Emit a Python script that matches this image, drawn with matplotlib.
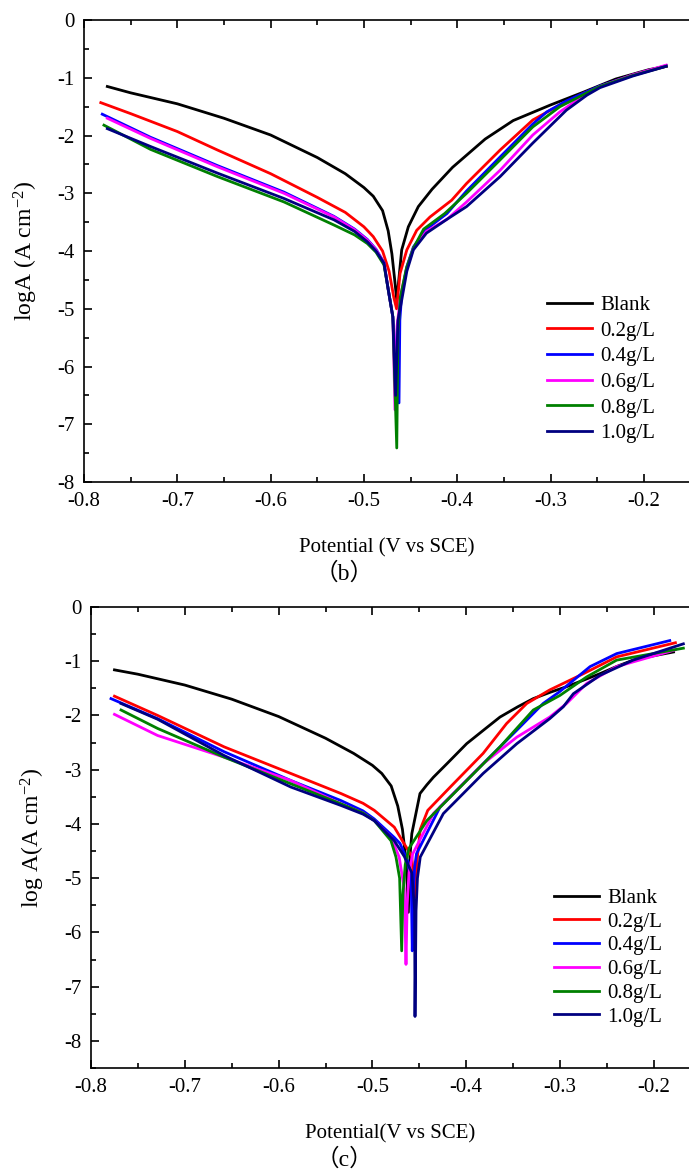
import matplotlib
matplotlib.use("Agg")
import matplotlib.pyplot as plt
from matplotlib.ticker import MultipleLocator

plt.rcParams['font.family'] = ['Liberation Serif', 'Noto Sans CJK SC']
plt.rcParams['mathtext.fontset'] = 'custom'
plt.rcParams['mathtext.rm'] = 'Liberation Serif'
plt.rcParams['mathtext.it'] = 'Liberation Serif:italic'
plt.rcParams['axes.unicode_minus'] = False

labels = ['Blank', '0.2g/L', '0.4g/L', '0.6g/L', '0.8g/L', '1.0g/L']
colors = ['black', '#ff0000', '#0000ff', '#ff00ff', '#008000', '#000080']

# ---- (b) ----
b_blank_E = [-0.775, -0.75, -0.70, -0.65, -0.60, -0.55, -0.52, -0.50, -0.49, -0.48, -0.474, -0.470, -0.467, -0.4648,
             -0.463, -0.4595, -0.4524, -0.4417, -0.427, -0.405, -0.37, -0.34, -0.30, -0.265, -0.23, -0.195, -0.176]
b_blank_I = [-1.15, -1.26, -1.45, -1.70, -1.99, -2.38, -2.66, -2.90, -3.05, -3.30, -3.65, -4.05, -4.50, -4.85,
             -4.56, -3.98, -3.58, -3.23, -2.93, -2.55, -2.06, -1.74, -1.47, -1.25, -1.02, -0.86, -0.80]

b_02_E = [-0.782, -0.75, -0.70, -0.657, -0.60, -0.55, -0.52, -0.50, -0.49, -0.48, -0.473, -0.468, -0.465,
          -0.4613, -0.454, -0.4434, -0.4292, -0.406, -0.390, -0.354, -0.319, -0.300, -0.265, -0.247, -0.212, -0.176]
b_02_I = [-1.43, -1.62, -1.93, -2.25, -2.66, -3.07, -3.33, -3.58, -3.75, -4.00, -4.35, -4.80, -5.00,
          -4.39, -3.98, -3.64, -3.41, -3.12, -2.83, -2.25, -1.73, -1.56, -1.27, -1.15, -0.95, -0.80]

b_04_E = [-0.7804, -0.7286, -0.657, -0.5856, -0.532, -0.51, -0.4963, -0.487, -0.4785, -0.4738, -0.469, -0.4624,
          -0.4615, -0.4595, -0.454, -0.447, -0.433, -0.411, -0.390, -0.354, -0.319, -0.304, -0.283, -0.261, -0.247, -0.212, -0.176]
b_04_I = [-1.63, -2.03, -2.52, -2.98, -3.40, -3.62, -3.80, -3.97, -4.20, -4.68, -5.14, -6.63,
          -5.20, -4.75, -4.27, -3.93, -3.62, -3.35, -2.96, -2.37, -1.80, -1.59, -1.40, -1.24, -1.14, -0.95, -0.79]

b_06_E = [-0.775, -0.7286, -0.657, -0.5856, -0.532, -0.51, -0.4963, -0.487, -0.4785, -0.4738, -0.469, -0.4667,
          -0.4645, -0.4605, -0.454, -0.447, -0.433, -0.411, -0.390, -0.354, -0.319, -0.290, -0.261, -0.247, -0.212, -0.176]
b_06_I = [-1.70, -2.05, -2.54, -3.00, -3.41, -3.63, -3.81, -3.98, -4.21, -4.68, -5.14, -6.75,
          -5.30, -4.75, -4.30, -3.95, -3.66, -3.45, -3.15, -2.60, -1.99, -1.59, -1.27, -1.15, -0.95, -0.78]

b_08_E = [-0.7786, -0.7286, -0.657, -0.5856, -0.532, -0.51, -0.4963, -0.487, -0.4785, -0.4738, -0.469, -0.4648,
          -0.4635, -0.461, -0.4545, -0.447, -0.436, -0.4134, -0.390, -0.354, -0.319, -0.290, -0.261, -0.247, -0.212, -0.176]
b_08_I = [-1.82, -2.24, -2.71, -3.15, -3.55, -3.72, -3.87, -4.02, -4.24, -4.68, -5.14, -7.41,
          -5.40, -4.80, -4.30, -3.95, -3.62, -3.35, -3.00, -2.42, -1.85, -1.50, -1.26, -1.15, -0.96, -0.80]

b_10_E = [-0.775, -0.7286, -0.657, -0.5856, -0.532, -0.51, -0.4963, -0.487, -0.4785, -0.4738, -0.469, -0.466,
          -0.4635, -0.4595, -0.454, -0.447, -0.433, -0.411, -0.390, -0.354, -0.319, -0.283, -0.261, -0.247, -0.212, -0.176]
b_10_I = [-1.88, -2.19, -2.65, -3.09, -3.46, -3.66, -3.84, -4.00, -4.21, -4.68, -5.14, -6.50,
          -5.20, -4.85, -4.35, -3.98, -3.69, -3.45, -3.23, -2.71, -2.13, -1.56, -1.30, -1.17, -0.97, -0.80]

# ---- (c) ----
c_blank_E = [-0.775, -0.75, -0.70, -0.65, -0.60, -0.55, -0.52, -0.50, -0.49, -0.48, -0.473, -0.468, -0.464, -0.4617,
             -0.460, -0.458, -0.4493, -0.442, -0.435, -0.42, -0.3995, -0.38, -0.364, -0.345, -0.3285, -0.31,
             -0.293, -0.275, -0.2574, -0.24, -0.222, -0.20, -0.179]
c_blank_I = [-1.16, -1.24, -1.44, -1.70, -2.02, -2.42, -2.70, -2.92, -3.07, -3.30, -3.67, -4.10, -4.70, -5.63,
             -4.60, -4.18, -3.44, -3.28, -3.14, -2.88, -2.52, -2.25, -2.03, -1.84, -1.69, -1.57,
             -1.47, -1.35, -1.23, -1.10, -0.98, -0.90, -0.83]

c_02_E = [-0.775, -0.729, -0.658, -0.587, -0.5335, -0.51, -0.498, -0.4767, -0.466, -0.458, -0.4545,
          -0.452, -0.449, -0.441, -0.417, -0.382, -0.357, -0.3355, -0.311, -0.275, -0.2396, -0.177]
c_02_I = [-1.645, -2.00, -2.58, -3.07, -3.44, -3.62, -3.75, -4.06, -4.37, -4.60, -5.35,
          -4.60, -4.10, -3.75, -3.32, -2.70, -2.15, -1.78, -1.53, -1.23, -0.92, -0.66]

c_04_E = [-0.7787, -0.729, -0.658, -0.587, -0.5335, -0.51, -0.498, -0.4767, -0.4706, -0.462, -0.4585, -0.4575,
          -0.4565, -0.455, -0.453, -0.428, -0.382, -0.346, -0.318, -0.301, -0.268, -0.2396, -0.183]
c_04_I = [-1.69, -2.06, -2.67, -3.20, -3.57, -3.76, -3.91, -4.25, -4.36, -4.70, -5.20, -6.34,
          -5.30, -4.80, -4.55, -3.69, -2.89, -2.27, -1.78, -1.57, -1.10, -0.86, -0.62]

c_06_E = [-0.775, -0.729, -0.658, -0.587, -0.5335, -0.51, -0.498, -0.480, -0.4715, -0.466, -0.4642,
          -0.463, -0.461, -0.457, -0.435, -0.382, -0.346, -0.311, -0.293, -0.2716, -0.2396, -0.177]
c_06_I = [-1.98, -2.37, -2.77, -3.20, -3.63, -3.80, -3.94, -4.25, -4.61, -5.20, -6.59,
          -5.50, -4.90, -4.55, -3.81, -2.89, -2.40, -2.03, -1.78, -1.41, -1.10, -0.79]

c_08_E = [-0.768, -0.729, -0.658, -0.587, -0.5335, -0.51, -0.498, -0.4802, -0.4749, -0.471, -0.4688,
          -0.4675, -0.465, -0.461, -0.442, -0.3995, -0.364, -0.3285, -0.300, -0.2716, -0.2396, -0.1685]
c_08_I = [-1.90, -2.24, -2.77, -3.26, -3.63, -3.80, -3.94, -4.31, -4.61, -5.00, -6.34,
          -5.30, -4.75, -4.45, -3.94, -3.20, -2.58, -1.90, -1.63, -1.29, -0.98, -0.76]

c_10_E = [-0.768, -0.729, -0.658, -0.587, -0.5335, -0.51, -0.498, -0.4767, -0.466, -0.458, -0.455, -0.4546,
          -0.4535, -0.452, -0.449, -0.4244, -0.382, -0.346, -0.311, -0.2965, -0.2858, -0.2574, -0.222, -0.1685]
c_10_I = [-1.78, -2.07, -2.74, -3.32, -3.66, -3.82, -3.94, -4.31, -4.60, -4.90, -5.60, -7.55,
          -5.60, -5.00, -4.61, -3.81, -3.07, -2.52, -2.06, -1.84, -1.60, -1.26, -0.98, -0.68]

b_E = [b_blank_E, b_02_E, b_04_E, b_06_E, b_08_E, b_10_E]
b_I = [b_blank_I, b_02_I, b_04_I, b_06_I, b_08_I, b_10_I]
c_E = [c_blank_E, c_02_E, c_04_E, c_06_E, c_08_E, c_10_E]
c_I = [c_blank_I, c_02_I, c_04_I, c_06_I, c_08_I, c_10_I]

fig = plt.figure(figsize=(6.89, 11.74), dpi=100)
ax1 = fig.add_axes([0.1219, 0.5894, 0.8781, 0.3935])
ax2 = fig.add_axes([0.1321, 0.0903, 0.8679, 0.3927])


def style(ax, ylim, xmax):
    ax.set_xlim(-0.8, xmax)
    ax.set_ylim(*ylim)
    ax.xaxis.set_major_locator(MultipleLocator(0.1))
    ax.xaxis.set_minor_locator(MultipleLocator(0.05))
    ax.yaxis.set_major_locator(MultipleLocator(1))
    ax.yaxis.set_minor_locator(MultipleLocator(0.5))
    ax.xaxis.set_major_formatter(plt.FuncFormatter(lambda v, p: '%.1f' % v))
    ax.yaxis.set_major_formatter(plt.FuncFormatter(lambda v, p: '%d' % round(v)))
    ax.tick_params(which='both', direction='in', top=True, right=False, labelsize=15, width=1.2)
    ax.tick_params(which='major', length=6, pad=7)
    ax.tick_params(which='minor', length=3.5)
    ax.spines['right'].set_visible(False)
    for s in ['left', 'bottom', 'top']:
        ax.spines[s].set_linewidth(1.2)


for E, I, lab, col in zip(b_E, b_I, labels, colors):
    ax1.plot(E, I, color=col, lw=2, label=lab)
for E, I, lab, col in zip(c_E, c_I, labels, colors):
    ax2.plot(E, I, color=col, lw=2, label=lab)

style(ax1, (-8, 0), -0.1516)
style(ax2, (-8.5, 0), -0.1625)

ax1.set_xlabel('Potential (V vs SCE)', fontsize=15, labelpad=20)
ax1.set_ylabel('logA (A cm$^{-2}$)', fontsize=17, labelpad=12)
ax2.set_xlabel('Potential(V vs SCE)', fontsize=15, labelpad=20)
ax2.set_ylabel('log A(A cm$^{-2}$)', fontsize=17, labelpad=12)

ax1.legend(loc='upper left', bbox_to_anchor=(0.752, 0.422), frameon=False, fontsize=15,
           handlelength=2.16, handletextpad=0.38, labelspacing=0.29, borderaxespad=0)
ax2.legend(loc='upper left', bbox_to_anchor=(0.761, 0.408), frameon=False, fontsize=15,
           handlelength=2.16, handletextpad=0.38, labelspacing=0.2, borderaxespad=0)

fig.text(0.5, 1 - 573 / 1174, '（b）', ha='center', va='center', fontsize=17)
fig.text(0.5, 1 - 1160 / 1174, '（c）', ha='center', va='center', fontsize=17)

fig.savefig('out.png', dpi=100)
